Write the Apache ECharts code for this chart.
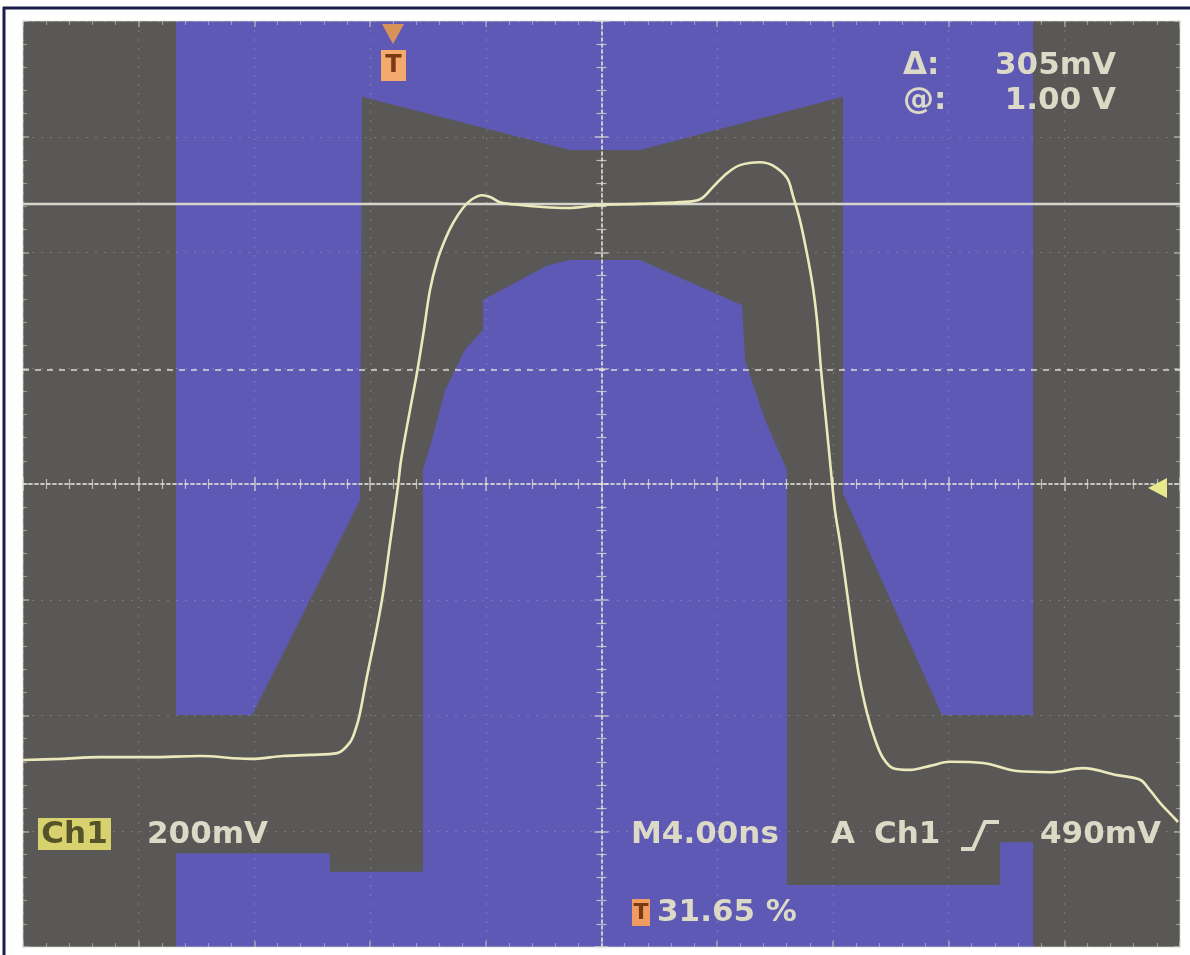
<!DOCTYPE html>
<html>
<head>
<meta charset="utf-8">
<script src="https://cdn.jsdelivr.net/npm/echarts@6/dist/echarts.min.js"></script>
<style>html,body{margin:0;padding:0;background:#ffffff}#chart{width:1190px;height:955px}</style>
</head>
<body>
<div id="chart"></div>
<script>
// ---- data (time in ns, 4 ns/div; level in mV relative to screen centre, 200 mV/div) ----
const timeRange = [-20, 20];
const levelRange = [-800, 800];
const timeStep = 4;
const levelStep = 200;

const wfTime = [-20.0, -18.72, -17.34, -15.61, -13.88, -12.15, -11.01, -10.08, -9.14, -8.69, -8.49, -8.35, -8.11, -7.76, -7.55, -7.31, -7.04, -6.93, -6.62, -6.38, -6.14, -5.93, -5.69, -5.41, -5.13, -4.79, -4.48, -4.13, -3.85, -3.51, -2.82, -2.13, -1.19, -0.05,
  1.33, 2.71, 3.41, 3.85, 4.34, 4.79, 5.48, 5.93, 6.41, 6.62, 6.86, 7.10, 7.31, 7.45, 7.59, 7.76, 7.93, 8.07, 8.25, 8.49, 8.69, 8.90, 9.18, 9.46, 9.73, 10.08, 10.67, 11.36, 12.05, 13.19, 14.36, 15.51, 16.65, 17.82, 18.62, 18.96, 19.31, 19.65, 19.93];
const wfLevel = [-477, -475, -472, -472, -470, -475, -470, -468, -465, -446, -422, -396, -333, -247, -188, -102, -5, 41, 128, 192, 266, 335, 384, 422, 451, 477, 492, 499, 496, 487, 482, 479, 477, 482,
  484, 487, 492, 513, 537, 551, 556, 550, 529, 498, 456, 399, 340, 283, 197, 111, 24, -45, -102, -188, -261, -330, -396, -442, -473, -491, -494, -487, -480, -482, -496, -498, -491, -503, -511, -529, -551, -569, -584];

// mask polygons [time ns, level mV]
const maskUpper = [[-14.71, 800], [14.92, 800], [14.92, -399], [11.77, -399], [8.35, -16], [8.35, 669], [1.33, 577], [-1.09, 577], [-8.28, 669], [-8.35, -28], [-12.08, -399], [-14.71, -399]];
const maskLower = [[-14.71, -800], [-14.71, -638], [-9.39, -638], [-9.39, -670], [-6.17, -670], [-6.17, 24], [-5.86, 76], [-5.41, 162], [-4.72, 232], [-4.10, 266], [-4.10, 318], [-1.85, 378], [-1.09, 387], [1.33, 387], [4.86, 309], [4.96, 214], [5.65, 111], [6.41, 24], [6.41, -693], [13.78, -693], [13.78, -619], [14.92, -619], [14.92, -800]];

const cursorActive = [484];
const cursorInactive = [197];

const readoutTop = ['Δ:', '305mV', '@:', '1.00 V'];
const readoutBottom = ['Ch1', '200mV', 'M4.00ns', 'A', 'Ch1', '490mV'];
const readoutTrigPos = ['31.65 %'];

// ---- style ----
const screenGray = '#5a5857';
const maskBlue = '#5e59b5';
const traceColor = '#ebe9bb';
const textColor = '#dcdac6';
const font = 'bold 31px "DejaVu Sans"';
const gratColor = 'rgba(225,225,215,0.75)';

const masks = [maskUpper, maskLower];
const wfData = wfTime.map((t, i) => [t, wfLevel[i]]);

function centerX(pos, idx) {
  return {
    type: 'value', min: timeRange[0], max: timeRange[1], interval: timeStep, position: pos, z: 3,
    axisLine: {show: true, onZero: true, lineStyle: {color: gratColor, type: [3, 3], width: 1.5}},
    axisTick: {show: true, inside: true, length: 7, lineStyle: {color: gratColor, width: 1.5}},
    minorTick: {show: true, splitNumber: 5, length: 5, lineStyle: {color: gratColor, width: 1.2}},
    splitLine: {show: idx === 0, lineStyle: {color: 'rgba(210,210,200,0.26)', type: [2, 7], width: 1.2}},
    axisLabel: {show: false}
  };
}
function centerY(pos, idx) {
  return {
    type: 'value', min: levelRange[0], max: levelRange[1], interval: levelStep, position: pos, z: 3,
    axisLine: {show: true, onZero: true, lineStyle: {color: gratColor, type: [3, 3], width: 1.5}},
    axisTick: {show: true, inside: true, length: 7, lineStyle: {color: gratColor, width: 1.5}},
    minorTick: {show: true, splitNumber: 5, length: 5, lineStyle: {color: gratColor, width: 1.2}},
    splitLine: {show: idx === 0, lineStyle: {color: 'rgba(210,210,200,0.26)', type: [2, 7], width: 1.2}},
    axisLabel: {show: false}
  };
}
function edgeX(pos) {
  return {
    type: 'value', min: timeRange[0], max: timeRange[1], interval: timeStep, position: pos, z: 3,
    axisLine: {show: true, onZero: false, lineStyle: {color: 'rgba(215,215,205,0.45)', width: 1.5}},
    axisTick: {show: true, inside: true, length: 6, lineStyle: {color: 'rgba(215,215,205,0.6)', width: 1.5}},
    minorTick: {show: true, splitNumber: 5, length: 4, lineStyle: {color: 'rgba(215,215,205,0.5)', width: 1.2}},
    splitLine: {show: false}, axisLabel: {show: false}
  };
}
function edgeY(pos) {
  return {
    type: 'value', min: levelRange[0], max: levelRange[1], interval: levelStep, position: pos, z: 3,
    axisLine: {show: true, onZero: false, lineStyle: {color: 'rgba(215,215,205,0.45)', width: 1.5}},
    axisTick: {show: true, inside: true, length: 6, lineStyle: {color: 'rgba(215,215,205,0.6)', width: 1.5}},
    minorTick: {show: true, splitNumber: 5, length: 4, lineStyle: {color: 'rgba(215,215,205,0.5)', width: 1.2}},
    splitLine: {show: false}, axisLabel: {show: false}
  };
}

function txt(text, x, y, align, extra) {
  return Object.assign({type: 'text', x: x, y: y, z: 100,
    style: {text: text, fill: textColor, font: font, align: align || 'left', verticalAlign: 'middle'}}, extra || {});
}

const chart = echarts.init(document.getElementById('chart'), null, {renderer: 'canvas'});
chart.setOption({
  backgroundColor: '#ffffff',
  animation: false,
  grid: {left: 23, right: 10, top: 21, bottom: 8, show: true, backgroundColor: screenGray, borderWidth: 0},
  xAxis: [centerX('bottom', 0), centerX('top', 1), edgeX('bottom'), edgeX('top')],
  yAxis: [centerY('left', 0), centerY('right', 1), edgeY('left'), edgeY('right')],
  series: [
    {
      type: 'custom', name: 'mask', coordinateSystem: 'cartesian2d', xAxisIndex: 0, yAxisIndex: 0, z: 2,
      data: masks.map((m, i) => [i, 0]),
      renderItem: function (params, api) {
        const poly = masks[api.value(0)];
        return {type: 'polygon', shape: {points: poly.map(p => api.coord(p))}, style: {fill: maskBlue}};
      },
      silent: true
    },
    {
      type: 'line', name: 'Ch1', xAxisIndex: 0, yAxisIndex: 0, z: 6,
      data: wfData, showSymbol: false, smooth: 0.35, clip: true,
      lineStyle: {color: traceColor, width: 2.6},
      markLine: {
        silent: true, symbol: 'none', label: {show: false}, animation: false,
        data: [
          {yAxis: cursorActive[0], lineStyle: {color: '#d6d5cc', width: 2.4, type: 'solid'}},
          {yAxis: cursorInactive[0], lineStyle: {color: 'rgba(235,235,225,0.75)', width: 1.8, type: [6, 6]}}
        ]
      }
    }
  ],
  graphic: [
    // outer frame
    {type: 'line', z: 100, shape: {x1: 3, y1: 8, x2: 1190, y2: 8}, style: {stroke: '#1b1d4d', lineWidth: 3}},
    {type: 'line', z: 100, shape: {x1: 4, y1: 7, x2: 4, y2: 955}, style: {stroke: '#1b1d4d', lineWidth: 3}},
    // top readouts
    txt(readoutTop[0], 903, 66),
    txt(readoutTop[1], 1116, 66, 'right'),
    txt(readoutTop[2], 903, 101),
    txt(readoutTop[3], 1116, 101, 'right'),
    // Ch1 box
    {type: 'rect', z: 100, shape: {x: 38, y: 818, width: 73, height: 32}, style: {fill: '#d8d26e'}},
    txt(readoutBottom[0], 74.5, 835, 'center', {style: {text: readoutBottom[0], fill: '#55532a', font: font, align: 'center', verticalAlign: 'middle'}}),
    txt(readoutBottom[1], 147, 835),
    txt(readoutBottom[2], 631, 835),
    txt(readoutBottom[3], 831, 835),
    txt(readoutBottom[4], 874, 835),
    {type: 'polyline', z: 100, shape: {points: [[961, 849], [973, 849], [985, 822], [999, 822]]}, style: {stroke: textColor, lineWidth: 4, fill: null}},
    txt(readoutBottom[5], 1161, 835, 'right'),
    // trigger position readout
    {type: 'rect', z: 100, shape: {x: 632, y: 899, width: 18, height: 27}, style: {fill: '#f09c60'}},
    {type: 'text', z: 101, x: 641, y: 913, style: {text: 'T', fill: '#7a3a14', font: 'bold 22px "DejaVu Sans"', align: 'center', verticalAlign: 'middle'}},
    txt(readoutTrigPos[0], 657, 913),
    // trigger position marker at top
    {type: 'polygon', z: 100, shape: {points: [[382, 24], [404, 24], [393, 44]]}, style: {fill: '#d89258'}},
    {type: 'rect', z: 100, shape: {x: 381, y: 50, width: 25, height: 31}, style: {fill: '#f4aa6c'}},
    {type: 'text', z: 101, x: 393.5, y: 66, style: {text: 'T', fill: '#7a3a14', font: 'bold 24px "DejaVu Sans"', align: 'center', verticalAlign: 'middle'}},
    // trigger level arrow at right
    {type: 'polygon', z: 100, shape: {points: [[1148, 488], [1167, 478], [1167, 498]]}, style: {fill: '#e8e88c'}}
  ]
});
</script>
</body>
</html>
